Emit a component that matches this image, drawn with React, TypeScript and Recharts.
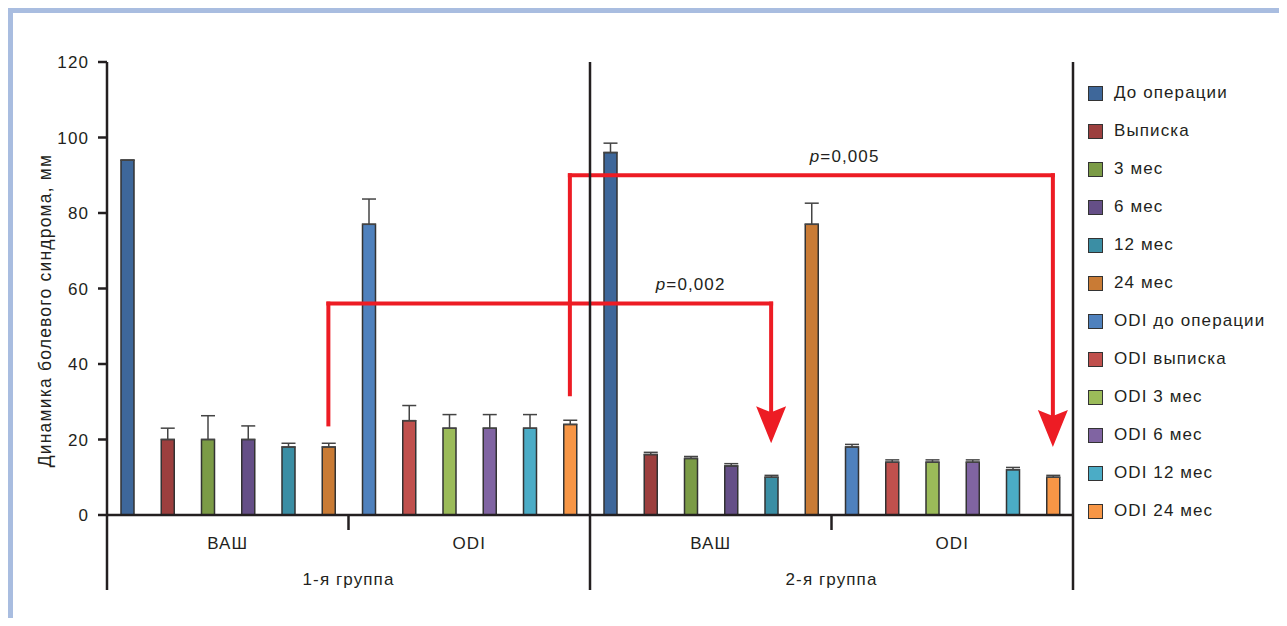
import React from 'react';
import { BarChart, Bar, Cell, XAxis, YAxis, ErrorBar, ReferenceLine, ReferenceDot } from 'recharts';

const SERIES = [
  'До операции', 'Выписка', '3 мес', '6 мес', '12 мес', '24 мес',
  'ODI до операции', 'ODI выписка', 'ODI 3 мес', 'ODI 6 мес', 'ODI 12 мес', 'ODI 24 мес',
];
const COLORS = [
  '#3e679a', '#9c3f3e', '#7b9b46', '#654f87', '#3b8ea4', '#c97b35',
  '#4f81bd', '#c0504d', '#9bbb59', '#8064a2', '#4bacc6', '#f79646',
];
const GROUPS = ['1-я группа', '2-я группа'];
const SUBGROUPS = ['ВАШ', 'ODI'];
const Y_TICKS = [0, 20, 40, 60, 80, 100, 120];

// values and upper error per block (ВАШ / ODI, group 1 / group 2)
const g1Vash = [94, 20, 20, 20, 18, 18];
const g1VashErr = [0, 3, 6.3, 3.6, 1, 1];
const g1Odi = [77, 25, 23, 23, 23, 24];
const g1OdiErr = [6.7, 4, 3.6, 3.6, 3.6, 1.1];
const g2Vash = [96, 16, 15, 13, 10, 77];
const g2VashErr = [2.5, 0.6, 0.5, 0.6, 0.5, 5.6];
const g2Odi = [18, 14, 14, 14, 12, 10];
const g2OdiErr = [0.7, 0.6, 0.6, 0.6, 0.6, 0.5];

// p-value brackets
const P_TEXT = ['0,002', '0,005'];
const ARROW_FROM = [5, 11];
const ARROW_TO = [16, 23];
const ARROW_START = [24, 32];
const ARROW_TOP = [56, 90];
const ARROW_TIP = [19, 18];
const P_AT = [14, 18];
const P_Y = [59.6, 93.6];
const P_DX = [0, -7];

const blocks = [
  [g1Vash, g1VashErr],
  [g1Odi, g1OdiErr],
  [g2Vash, g2VashErr],
  [g2Odi, g2OdiErr],
];
const data = blocks.flatMap(([vals, errs], b) =>
  vals.map((v, i) => ({ id: `b${b * 6 + i}`, value: v, err: [0, errs[i]], series: (b % 2) * 6 + i }))
);

const W = 1279;
const H = 618;
const MARGIN = { top: 54, right: 214, left: 39, bottom: 21 };
const Y_W = 60;
const X_H = 90;
const PLOT_W = W - MARGIN.left - MARGIN.right - Y_W;
const PLOT_H = H - MARGIN.top - MARGIN.bottom - X_H;
const BAND = PLOT_W / data.length;
const INK = '#231f20';
const RED = '#ed1c24';
const FONT = '"Liberation Sans", Arial, Helvetica, sans-serif';

const XTick = (props: any) => {
  const { x, y, index } = props;
  const half = BAND / 2;
  const out: React.ReactNode[] = [];
  if (index % 6 === 0) {
    const lx = x - half;
    if (index === 0) {
      out.push(<line key="l0" x1={lx} x2={lx} y1={y} y2={y + 75} stroke={INK} strokeWidth={2.5} />);
    } else if (index % 12 === 0) {
      out.push(<line key="lg" x1={lx} x2={lx} y1={y - PLOT_H} y2={y + 75} stroke={INK} strokeWidth={2.5} />);
    } else {
      out.push(<line key="ls" x1={lx} x2={lx} y1={y} y2={y + 15} stroke={INK} strokeWidth={2.5} />);
    }
  }
  if (index === data.length - 1) {
    const rx = x + half;
    out.push(<line key="lr" x1={rx} x2={rx} y1={y - PLOT_H} y2={y + 75} stroke={INK} strokeWidth={2.5} />);
  }
  if (index % 6 === 2) {
    out.push(
      <text key="sg" x={x + half} y={y + 34} textAnchor="middle" fill={INK} fontSize={17} style={{ letterSpacing: '1.1px' }}>
        {SUBGROUPS[Math.floor(index / 6) % 2]}
      </text>
    );
  }
  if (index % 12 === 5) {
    out.push(
      <text key="g" x={x + half} y={y + 70} textAnchor="middle" fill={INK} fontSize={17} style={{ letterSpacing: '1.1px' }}>
        {GROUPS[Math.floor(index / 12)]}
      </text>
    );
  }
  return <g>{out}</g>;
};

const YLabel = (props: any) => {
  const { viewBox } = props;
  const cx = viewBox.x + viewBox.width - 62;
  const cy = viewBox.y + viewBox.height / 2 + 22;
  return (
    <text x={cx} y={cy} transform={`rotate(-90, ${cx}, ${cy})`} textAnchor="middle" dominantBaseline="central"
      fill={INK} fontSize={17.5} style={{ letterSpacing: '1.2px' }}>
      Динамика болевого синдрома, мм
    </text>
  );
};

const arrowHead = (p: any) => (
  <path
    d={`M${p.cx},${p.cy} L${p.cx - 15},${p.cy - 37} L${p.cx},${p.cy - 31} L${p.cx + 15},${p.cy - 37} Z`}
    fill={RED}
  />
);

export default function App() {
  return (
    <div style={{ position: 'relative', width: W, height: H, marginBottom: -8, fontFamily: FONT, background: '#fff' }}>
      <div style={{ position: 'absolute', left: 0, top: 0, width: 5, height: H, background: '#a9bde0' }} />
      <div style={{ position: 'absolute', left: 0, top: 0, width: W, height: 5, background: '#a9bde0' }} />
      <BarChart width={W} height={H} data={data} margin={MARGIN}>
        <Bar dataKey="value" barSize={13} stroke="#333" strokeWidth={1.5} isAnimationActive={false}>
          {data.map((d) => (
            <Cell key={d.id} fill={COLORS[d.series]} />
          ))}
          <ErrorBar dataKey="err" width={7} stroke="#444" strokeWidth={1.5} />
        </Bar>
        {P_TEXT.map((_, k) => {
          const a = data[ARROW_FROM[k]].id;
          const b = data[ARROW_TO[k]].id;
          return (
            <React.Fragment key={k}>
              <ReferenceLine
                segment={[{ x: a, y: ARROW_START[k] }, { x: a, y: ARROW_TOP[k] }]}
                stroke={RED} strokeWidth={4} strokeLinecap="square"
              />
              <ReferenceLine
                segment={[{ x: a, y: ARROW_TOP[k] }, { x: b, y: ARROW_TOP[k] }]}
                stroke={RED} strokeWidth={4} strokeLinecap="square"
              />
              <ReferenceLine
                segment={[{ x: b, y: ARROW_TOP[k] }, { x: b, y: ARROW_TIP[k] + 7 }]}
                stroke={RED} strokeWidth={4} strokeLinecap="square"
              />
              <ReferenceDot x={b} y={ARROW_TIP[k]} r={0} shape={arrowHead} />
              <ReferenceDot
                x={data[P_AT[k]].id}
                y={P_Y[k]}
                r={0}
                shape={(p: any) => (
                  <text x={p.cx + P_DX[k]} y={p.cy} textAnchor="middle" fill={INK} fontSize={17} style={{ letterSpacing: '1.1px' }}>
                    <tspan fontStyle="italic">p</tspan>={P_TEXT[k]}
                  </text>
                )}
              />
            </React.Fragment>
          );
        })}
        <XAxis
          dataKey="id"
          interval={0}
          height={X_H}
          tickSize={0}
          tickMargin={0}
          tickLine={false}
          axisLine={{ stroke: INK, strokeWidth: 2.5 }}
          tick={<XTick />}
        />
        <YAxis
          domain={[0, 120]}
          ticks={Y_TICKS}
          width={Y_W}
          tickSize={9}
          tickMargin={9}
          axisLine={{ stroke: INK, strokeWidth: 2.5 }}
          tickLine={{ stroke: INK, strokeWidth: 2.5 }}
          tick={{ fontSize: 17, fill: INK, style: { letterSpacing: '1.1px' } }}
          label={<YLabel />}
        />
      </BarChart>
      <div style={{ position: 'absolute', left: 1080, top: 66, color: INK, fontSize: 17, letterSpacing: '1.1px' }}>
        {SERIES.map((s, i) => (
          <div key={s} style={{ display: 'flex', alignItems: 'center', height: 38 }}>
            <span style={{ width: 13, height: 13, border: '1.5px solid #333', background: COLORS[i], marginRight: 11, flex: 'none' }} />
            <span style={{ whiteSpace: 'nowrap' }}>{s}</span>
          </div>
        ))}
      </div>
    </div>
  );
}
